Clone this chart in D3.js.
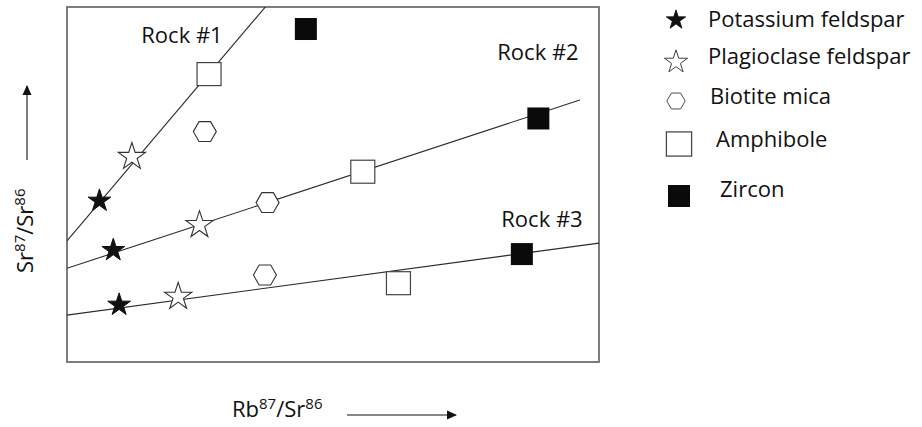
<!DOCTYPE html>
<html>
<head>
<meta charset="utf-8">
<script src="https://cdn.jsdelivr.net/npm/d3@7"></script>
<style>
  html, body { margin: 0; padding: 0; background: #fff; }
  svg { display: block; font-family: "Open Sans", "Noto Sans", sans-serif; }
</style>
</head>
<body>
<svg id="chart" width="922" height="427"></svg>
<script>
// Minerals measured in each rock (same order in every series)
const minerals = ["Potassium feldspar", "Plagioclase feldspar", "Biotite mica", "Amphibole", "Zircon"];
const symbols = ["starFilled", "starHollow", "hexagon", "squareHollow", "squareFilled"];

// Rb87/Sr86 (x) and Sr87/Sr86 (y), arbitrary units
const rock1Rb = [0.61, 1.22, 2.59, 2.67, 4.49];
const rock1Sr = [4.54, 5.78, 6.49, 8.11, 9.38];
const rock2Rb = [0.87, 2.49, 3.77, 5.56, 8.86];
const rock2Sr = [3.15, 3.86, 4.49, 5.36, 6.86];
const rock3Rb = [0.98, 2.09, 3.72, 6.23, 8.55];
const rock3Sr = [1.61, 1.84, 2.45, 2.22, 3.04];

// Isochrons: intercept, slope, and the Rb87/Sr86 where each line stops
const rockNames = ["Rock #1", "Rock #2", "Rock #3"];
const isoIntercept = [3.41, 2.64, 1.32];
const isoSlope = [1.768, 0.492, 0.203];
const isoXEnd = [10, 9.64, 10];

const svg = d3.select("#chart");
const plot = { left: 67, top: 7, right: 599, bottom: 362 };
const FONT = 22, SUP = 15;

const x = d3.scaleLinear().domain([0, 10]).range([plot.left, plot.right]);
const y = d3.scaleLinear().domain([0, 10]).range([plot.bottom, plot.top]);

const defs = svg.append("defs");
defs.append("clipPath").attr("id", "plotClip")
  .append("rect")
  .attr("x", plot.left).attr("y", plot.top)
  .attr("width", plot.right - plot.left).attr("height", plot.bottom - plot.top);

defs.append("marker")
  .attr("id", "arrowHead")
  .attr("viewBox", "0 0 10 10")
  .attr("refX", 9).attr("refY", 5)
  .attr("markerWidth", 12).attr("markerHeight", 10)
  .attr("markerUnits", "userSpaceOnUse")
  .attr("orient", "auto")
  .append("path")
  .attr("d", "M0,0.5 L10,5 L0,9.5 Z")
  .attr("fill", "#111");

// Plot frame
svg.append("rect")
  .attr("x", plot.left).attr("y", plot.top)
  .attr("width", plot.right - plot.left).attr("height", plot.bottom - plot.top)
  .attr("fill", "none").attr("stroke", "#6f6f6f").attr("stroke-width", 1.8);

// Isochron lines
const isoG = svg.append("g").attr("clip-path", "url(#plotClip)");
rockNames.forEach((name, i) => {
  const x1 = isoXEnd[i];
  isoG.append("line")
    .attr("x1", x(0)).attr("y1", y(isoIntercept[i]))
    .attr("x2", x(x1)).attr("y2", y(isoIntercept[i] + isoSlope[i] * x1))
    .attr("stroke", "#2a2a2a").attr("stroke-width", 1.1);
});

// Marker shapes
function hexPath(r) {
  const pts = d3.range(6).map(k => {
    const a = Math.PI / 3 * k;
    return [r * Math.cos(a), r * Math.sin(a)];
  });
  return "M" + pts.map(p => p.join(",")).join("L") + "Z";
}
const starFilled = d3.symbol(d3.symbolStar, 160)();
const starHollow = d3.symbol(d3.symbolStar, 230)();

function drawSymbol(g, kind, cx, cy, scale) {
  const s = scale || 1;
  const t = `translate(${cx},${cy}) scale(${s})`;
  if (kind === "starFilled") {
    g.append("path").attr("d", starFilled).attr("transform", t)
      .attr("fill", "#111").attr("stroke", "#111").attr("stroke-width", 1);
  } else if (kind === "starHollow") {
    g.append("path").attr("d", starHollow).attr("transform", t)
      .attr("fill", "#fff").attr("stroke", "#333").attr("stroke-width", 1.1);
  } else if (kind === "hexagon") {
    g.append("path").attr("d", hexPath(11.5)).attr("transform", t)
      .attr("fill", "#fff").attr("stroke", "#333").attr("stroke-width", 1.1);
  } else if (kind === "squareHollow") {
    g.append("rect").attr("x", -12).attr("y", -11.5).attr("width", 24).attr("height", 23)
      .attr("transform", t)
      .attr("fill", "#fff").attr("stroke", "#444").attr("stroke-width", 1.2);
  } else if (kind === "squareFilled") {
    g.append("rect").attr("x", -11).attr("y", -11).attr("width", 22).attr("height", 22)
      .attr("transform", t)
      .attr("fill", "#0a0a0a");
  }
}

const pointsG = svg.append("g");
[[rock1Rb, rock1Sr], [rock2Rb, rock2Sr], [rock3Rb, rock3Sr]].forEach(([rb, sr]) => {
  rb.forEach((v, j) => drawSymbol(pointsG, symbols[j], x(v), y(sr[j])));
});

// Rock labels
const rockLabelPos = [[182, 43], [538, 60], [542, 227]];
rockNames.forEach((name, i) => {
  svg.append("text")
    .attr("x", rockLabelPos[i][0]).attr("y", rockLabelPos[i][1])
    .attr("text-anchor", "middle")
    .attr("font-size", FONT).attr("fill", "#111")
    .text(name);
});

// Legend
const legendSym = [[676, 20], [676, 62], [676, 101], [679, 144], [679, 196]];
const legendScale = [0.85, 0.85, 0.8, 1.05, 1];
const legendText = [[708, 27], [708, 64], [710, 104], [716, 147], [720, 197]];
minerals.forEach((m, i) => {
  drawSymbol(svg, symbols[i], legendSym[i][0], legendSym[i][1], legendScale[i]);
  svg.append("text")
    .attr("x", legendText[i][0]).attr("y", legendText[i][1])
    .attr("font-size", FONT).attr("fill", "#111")
    .text(m);
});

// Axis titles with arrows
function ratioTitle(sel, a) {
  sel.append("tspan").text(a);
  sel.append("tspan").attr("dy", -8).attr("font-size", SUP).text("87");
  sel.append("tspan").attr("dy", 8).text("/Sr");
  sel.append("tspan").attr("dy", -8).attr("font-size", SUP).text("86");
}

const xTitle = svg.append("text")
  .attr("x", 232).attr("y", 417)
  .attr("font-size", FONT).attr("fill", "#111");
ratioTitle(xTitle, "Rb");

svg.append("line")
  .attr("x1", 347).attr("y1", 415).attr("x2", 456).attr("y2", 415)
  .attr("stroke", "#111").attr("stroke-width", 1.1)
  .attr("marker-end", "url(#arrowHead)");

const yTitle = svg.append("text")
  .attr("transform", "translate(33,273) rotate(-90)")
  .attr("font-size", FONT).attr("fill", "#111");
ratioTitle(yTitle, "Sr");

svg.append("line")
  .attr("x1", 27).attr("y1", 160).attr("x2", 27).attr("y2", 86)
  .attr("stroke", "#111").attr("stroke-width", 1.1)
  .attr("marker-end", "url(#arrowHead)");
</script>
</body>
</html>
